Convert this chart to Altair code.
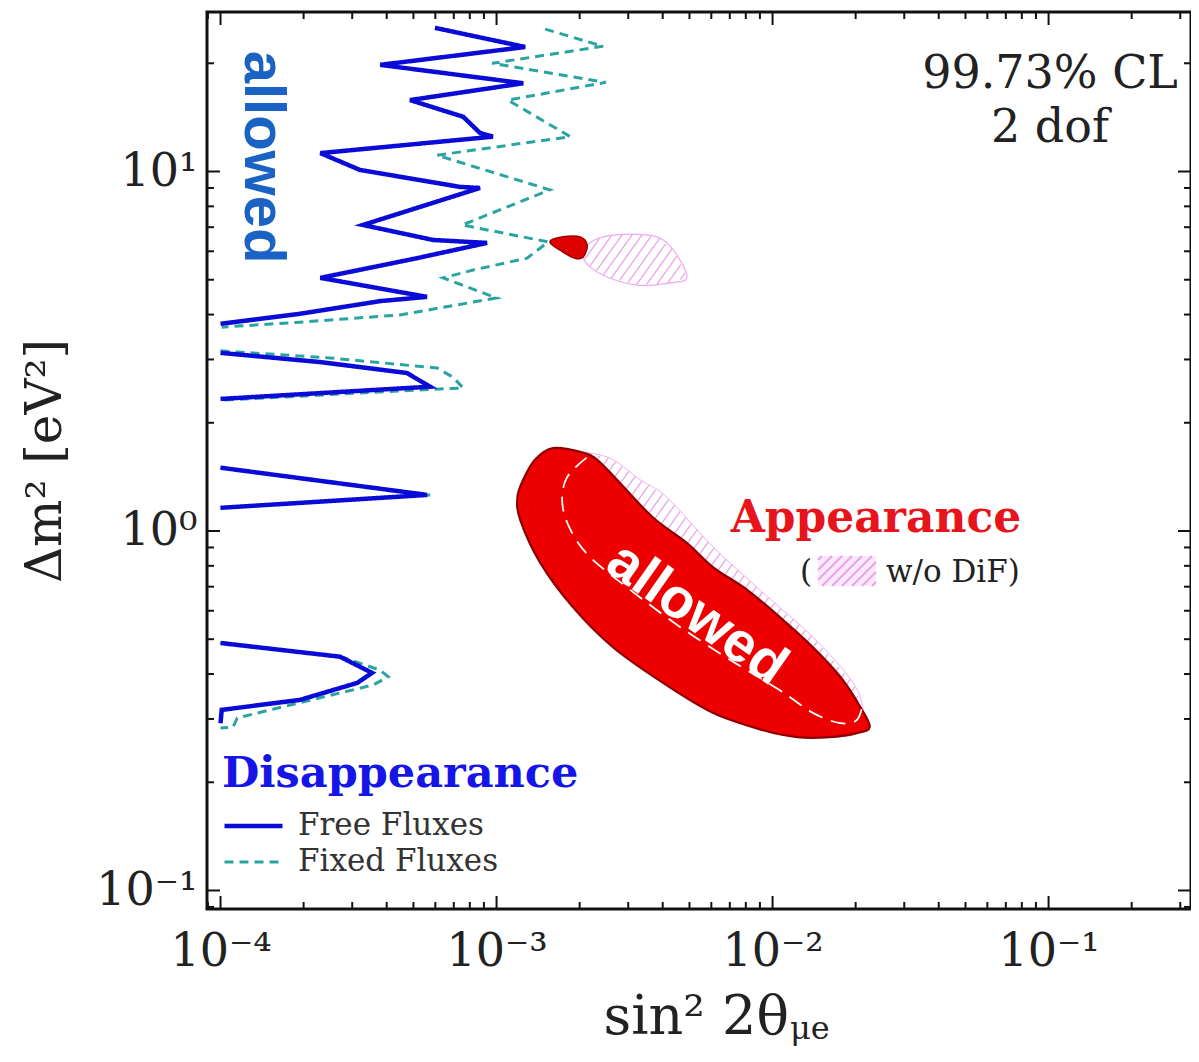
import altair as alt
import pandas as pd
import numpy as np

# ---------------- data ----------------
# Disappearance, Free Fluxes (solid) - segments
free_x = [
    [5.98e-4, 1.27e-3, 3.79e-4, 1.25e-3, 4.86e-4, 7.57e-4, 8.71e-4, 9.70e-4, 2.30e-4, 3.20e-4,
     7.38e-4, 8.71e-4, 3.28e-4, 5.89e-4, 9.24e-4, 5.15e-4, 2.30e-4, 5.60e-4, 3.79e-4, 1.94e-4, 1.0e-4],
    [1.0e-4, 2.30e-4, 4.74e-4, 5.74e-4, 1.0e-4],
    [1.0e-4, 5.60e-4, 1.0e-4],
    [1.0e-4, 2.71e-4, 3.54e-4, 3.13e-4, 1.94e-4, 1.01e-4, 1.0e-4],
]
free_y = [
    [25.1, 22.2, 19.8, 17.6, 15.8, 14.2, 12.8, 12.5, 11.25, 10.1,
     9.06, 9.0, 7.10, 6.45, 6.33, 5.74, 5.06, 4.48, 4.36, 4.02, 3.77],
    [3.13, 2.95, 2.75, 2.52, 2.33],
    [1.50, 1.26, 1.16],
    [0.488, 0.447, 0.403, 0.378, 0.339, 0.318, 0.292],
]
# Disappearance, Fixed Fluxes (dashed)
fixed_x = [
    [1.50e-3, 2.43e-3, 9.64e-4, 2.49e-3, 1.10e-3, 1.85e-3, 6.08e-4, 1.56e-3, 7.50e-4, 1.54e-3,
     1.29e-3, 8.22e-4, 6.40e-4, 1.0e-3, 4.47e-4, 1.94e-4, 1.01e-4],
    [1.0e-4, 2.49e-4, 6.09e-4, 6.95e-4, 7.57e-4, 5.89e-4, 1.0e-4],
    [1.0e-4, 5.74e-4, 1.0e-4],
    [1.0e-4, 2.78e-4, 3.79e-4, 4.05e-4, 3.57e-4, 1.94e-4, 1.15e-4, 1.11e-4, 1.0e-4],
]
fixed_y = [
    [24.9, 22.3, 20.0, 17.7, 15.8, 12.5, 11.1, 8.89, 7.10, 6.37,
     5.74, 5.32, 5.06, 4.45, 3.99, 3.81, 3.69],
    [3.17, 3.03, 2.84, 2.68, 2.50, 2.48, 2.31],
    [1.50, 1.26, 1.16],
    [0.490, 0.445, 0.410, 0.393, 0.373, 0.333, 0.302, 0.285, 0.283],
]
series_names = ["Free Fluxes", "Fixed Fluxes"]

# Appearance allowed region (red)
app_x = [1.60e-3, 2.01e-3, 2.31e-3, 2.80e-3, 3.69e-3, 4.90e-3, 6.08e-3, 8.09e-3, 1.06e-2, 1.40e-2,
         1.76e-2, 2.08e-2, 2.25e-2, 2.02e-2, 1.61e-2, 1.23e-2, 9.25e-3, 6.08e-3, 4.01e-3, 2.64e-3,
         1.89e-3, 1.44e-3, 1.22e-3, 1.19e-3, 1.25e-3, 1.38e-3]
app_y = [1.70, 1.66, 1.58, 1.36, 1.09, 0.925, 0.794, 0.686, 0.577, 0.475,
         0.393, 0.324, 0.285, 0.274, 0.267, 0.267, 0.279, 0.312, 0.378, 0.475,
         0.614, 0.815, 1.07, 1.24, 1.39, 1.58]
# Appearance w/o DiF (hatched pink)
nodif_x = [2.18e-3, 2.64e-3, 3.31e-3, 4.15e-3, 6.08e-3, 9.25e-3, 1.40e-2, 1.96e-2, 2.13e-2,
           2.02e-2, 1.61e-2, 1.23e-2, 9.25e-3, 6.08e-3, 4.01e-3, 2.64e-3, 1.89e-3, 1.44e-3,
           1.22e-3, 1.19e-3, 1.25e-3, 1.38e-3, 1.60e-3, 2.01e-3]
nodif_y = [1.65, 1.58, 1.39, 1.24, 0.904, 0.673, 0.507, 0.378, 0.312,
           0.274, 0.267, 0.267, 0.279, 0.312, 0.378, 0.475, 0.614, 0.815,
           1.07, 1.24, 1.39, 1.58, 1.70, 1.66]
# white dashed contour inside
inner_x = [2.12e-3, 1.80e-3, 1.73e-3, 1.85e-3, 2.18e-3, 3.05e-3, 4.62e-3, 7.02e-3, 1.06e-2,
           1.40e-2, 1.76e-2, 2.02e-2, 2.13e-2]
inner_y = [1.60, 1.41, 1.20, 1.01, 0.847, 0.686, 0.541, 0.438, 0.361,
           0.312, 0.292, 0.298, 0.333]
# small island near 6 eV^2
isl_x = [1.56e-3, 1.74e-3, 2.01e-3, 2.13e-3, 2.06e-3, 1.92e-3, 1.74e-3]
isl_y = [6.37, 6.58, 6.58, 6.24, 5.78, 5.74, 5.97]
isl_nodif_x = [2.13e-3, 2.43e-3, 3.05e-3, 3.82e-3, 4.37e-3, 4.90e-3, 4.26e-3, 3.23e-3, 2.51e-3, 2.18e-3, 2.06e-3]
isl_nodif_y = [6.24, 6.58, 6.70, 6.58, 6.05, 5.09, 4.90, 4.83, 5.09, 5.43, 5.78]

x_tick_vals = [1e-4, 1e-3, 1e-2, 1e-1]
x_tick_labels = ["10\u207b\u2074", "10\u207b\u00b3", "10\u207b\u00b2", "10\u207b\u00b9"]
y_tick_vals = [0.1, 1, 10]
y_tick_labels = ["10\u207b\u00b9", "10\u2070", "10\u00b9"]

# ---------------- layout ----------------
W, H = 984, 897
XMIN, XMAX = 10 ** -4.049, 10 ** -0.484
YMIN, YMAX = 10 ** -1.0515, 10 ** 1.4437
xs = alt.Scale(type="log", domain=[XMIN, XMAX], nice=False)
ys = alt.Scale(type="log", domain=[YMIN, YMAX], nice=False)
SERIF = "DejaVu Serif"
SANS = "Liberation Sans"


def label_expr(vals, labs):
    parts = [f"abs(log(datum.value)/LN10-({int(round(np.log10(v)))}))<0.01 ? '{l}'" for v, l in zip(vals, labs)]
    return " : ".join(parts) + " : ''"


AX_X = alt.Axis(values=x_tick_vals, labelExpr=label_expr(x_tick_vals, x_tick_labels),
                ticks=False, domain=False, grid=False, labelFont=SERIF,
                labelFontSize=46, labelColor="#222222", labelPadding=20,
                title="sin\u00b2 2\u03b8", titleFont=SERIF, titleFontSize=54,
                titleFontWeight="normal", titleColor="#222222",
                titleX=396, titleY=124, titleAlign="left",
                titleBaseline="alphabetic")
AX_Y = alt.Axis(values=y_tick_vals, labelExpr=label_expr(y_tick_vals, y_tick_labels),
                ticks=False, domain=False, grid=False, labelFont=SERIF,
                labelFontSize=46, labelColor="#222222", labelPadding=10,
                title="\u0394m\u00b2 [eV\u00b2]", titleFont=SERIF, titleFontSize=50,
                titleFontWeight="normal", titleColor="#222222",
                titleX=-147, titleY=H / 2, titleAngle=270,
                titleAlign="center", titleBaseline="alphabetic")


def X(field="x"):
    return alt.X(f"{field}:Q", scale=xs, axis=AX_X)


def Y(field="y"):
    return alt.Y(f"{field}:Q", scale=ys, axis=AX_Y)


def curve_frame(xl, yl, name, tag):
    rows = []
    for s, (sx, sy) in enumerate(zip(xl, yl)):
        for i, (a, b) in enumerate(zip(sx, sy)):
            rows.append({"x": a, "y": b, "series": name, "seg": f"{tag}{s}", "i": i})
    return rows


def poly_frame(px, py, tag):
    return pd.DataFrame([{"x": a, "y": b, "seg": tag, "i": i} for i, (a, b) in enumerate(zip(px, py))])


def hatch(px, py, step=14.0, k=1.4):
    lx = [276 * np.log10(v) for v in px]
    ly = [359.5 * np.log10(v) for v in py]
    f0 = [b - k * a for a, b in zip(lx, ly)]
    out = []
    n = len(lx)
    for c in np.arange(min(f0) + step / 2, max(f0), step):
        pts = []
        for i in range(n):
            j = (i + 1) % n
            fi, fj = f0[i] - c, f0[j] - c
            if (fi < 0) != (fj < 0):
                t = fi / (fi - fj)
                pts.append(lx[i] + t * (lx[j] - lx[i]))
        pts.sort()
        for m in range(0, len(pts) - 1, 2):
            a, b = pts[m], pts[m + 1]
            out.append({"x": 10 ** (a / 276), "y": 10 ** ((k * a + c) / 359.5),
                        "x2": 10 ** (b / 276), "y2": 10 ** ((k * b + c) / 359.5)})
    return pd.DataFrame(out)


curves = pd.DataFrame(curve_frame(fixed_x, fixed_y, series_names[1], "fx") +
                      curve_frame(free_x, free_y, series_names[0], "fr"))

legend = alt.Legend(title="Disappearance", orient="none", legendX=15, legendY=741,
                    titleFont=SERIF, titleFontWeight="bold", titleFontSize=43, titleColor="#1515e8",
                    titlePadding=13, titleLimit=800, labelLimit=600,
                    labelFont=SERIF, labelFontSize=31, labelColor="#333333",
                    symbolType="stroke", symbolSize=3364, labelOffset=13, rowPadding=2,
                    clipHeight=34, padding=0)

lines = alt.Chart(curves).mark_line().encode(
    x=X(), y=Y(),
    color=alt.Color("series:N", scale=alt.Scale(domain=series_names, range=["#0b0bd8", "#2ca3a3"]), legend=legend),
    strokeDash=alt.StrokeDash("series:N", scale=alt.Scale(domain=series_names, range=[[1, 0], [9, 6]]), legend=legend),
    strokeWidth=alt.StrokeWidth("series:N", scale=alt.Scale(domain=series_names, range=[4.5, 3.0]), legend=legend),
    detail="seg:N",
    order="i:Q",
)


def polygon(px, py, tag, fill, stroke, sw):
    return alt.Chart(poly_frame(px, py, tag)).mark_line(
        fill=fill, stroke=stroke, strokeWidth=sw, interpolate="cardinal-closed").encode(
        x=X(), y=Y(), order="i:Q")


def hatch_layer(px, py):
    return alt.Chart(hatch(px, py)).mark_rule(color="#e9a4ea", strokeWidth=1.3).encode(
        x=X(), y=Y(), x2="x2:Q", y2="y2:Q")


pink_big_h = hatch_layer(nodif_x, nodif_y)
pink_big_o = polygon(nodif_x, nodif_y, "nd", "transparent", "#f0b0f0", 1.0)
pink_small_h = hatch_layer(isl_nodif_x, isl_nodif_y)
pink_small_o = polygon(isl_nodif_x, isl_nodif_y, "nds", "transparent", "#eeaaee", 1.2)
red_big = polygon(app_x, app_y, "app", "#ee0000", "#8e0000", 2.2)
red_small = polygon(isl_x, isl_y, "isl", "#dd0000", "#990000", 1.5)
inner = alt.Chart(pd.DataFrame({"x": inner_x, "y": inner_y, "i": list(range(len(inner_x)))})).mark_line(
    color="white", strokeWidth=1.8, strokeDash=[15, 9], interpolate="cardinal").encode(
    x=X(), y=Y(), order="i:Q")

# ---------------- frame ticks ----------------
x_minor = [m * 10.0 ** e for e in range(-5, 0) for m in range(2, 10) if XMIN <= m * 10.0 ** e <= XMAX]
y_minor = [m * 10.0 ** e for e in range(-2, 2) for m in range(2, 10) if YMIN <= m * 10.0 ** e <= YMAX]


def xticks(vals, length):
    base = alt.Chart(pd.DataFrame({"x": vals})).mark_rule(color="#111111", strokeWidth=2)
    return [base.encode(x=X(), y=alt.value(H), y2=alt.value(H - length)),
            base.encode(x=X(), y=alt.value(0), y2=alt.value(length))]


def yticks(vals, length):
    base = alt.Chart(pd.DataFrame({"y": vals})).mark_rule(color="#111111", strokeWidth=2)
    return [base.encode(y=Y(), x=alt.value(0), x2=alt.value(length)),
            base.encode(y=Y(), x=alt.value(W), x2=alt.value(W - length))]


ticks = xticks(x_tick_vals, 13) + xticks(x_minor, 7) + yticks(y_tick_vals, 13) + yticks(y_minor, 7)


# ---------------- text ----------------
def text(t, x, y, size, color="#222222", font=SERIF, weight="normal", align="center", baseline="alphabetic", angle=0):
    return alt.Chart(pd.DataFrame({"t": [t]})).mark_text(
        font=font, fontSize=size, fontWeight=weight, color=color, align=align, baseline=baseline, angle=angle
    ).encode(x=alt.value(x), y=alt.value(y), text="t:N")


texts = [
    text("99.73% CL", 843, 76, 46),
    text("2 dof", 843, 130, 46),
    text("allowed", 55, 145, 58, color="#1a62c4", font=SANS, weight="bold", baseline="middle", angle=90),
    text("allowed", 490, 602, 56, color="white", font=SANS, weight="bold", baseline="middle", angle=35),
    text("Appearance", 669, 520, 44, color="#e8141b", weight="bold"),
    text("(", 593, 570, 31, align="left"),
    text("w/o DiF)", 679, 570, 31, align="left"),
    text("\u03bce", 583, 1027, 32, align="left"),
]

# hatched key for "w/o DiF"
SW_X0, SW_Y0, SW_W, SW_H = 611, 544, 58, 30
swatch = [alt.Chart(pd.DataFrame({"a": [0]})).mark_rect(fill="#fbe8fb").encode(
    x=alt.value(SW_X0), x2=alt.value(SW_X0 + SW_W), y=alt.value(SW_Y0), y2=alt.value(SW_Y0 + SW_H))]
for t in range(-SW_H + 4, SW_W, 10):
    s0, s1 = max(0, -t), min(SW_H, SW_W - t)
    if s1 <= s0:
        continue
    swatch.append(alt.Chart(pd.DataFrame({"a": [0]})).mark_rule(color="#e7a3e7", strokeWidth=2).encode(
        x=alt.value(SW_X0 + t + s0), y=alt.value(SW_Y0 + SW_H - s0),
        x2=alt.value(SW_X0 + t + s1), y2=alt.value(SW_Y0 + SW_H - s1)))

chart = alt.layer(
    pink_big_h, pink_big_o, red_big, inner, pink_small_h, pink_small_o, red_small,
    lines, *ticks, *swatch, *texts
).properties(
    width=W, height=H,
    padding={"left": 199, "top": 4, "right": 0, "bottom": 137},
    autosize=alt.AutoSizeParams(type="none"),
).configure(background="white").configure_view(stroke="#111111", strokeWidth=3)

chart.save("out.html", embed_options={"renderer": "svg", "actions": False})
